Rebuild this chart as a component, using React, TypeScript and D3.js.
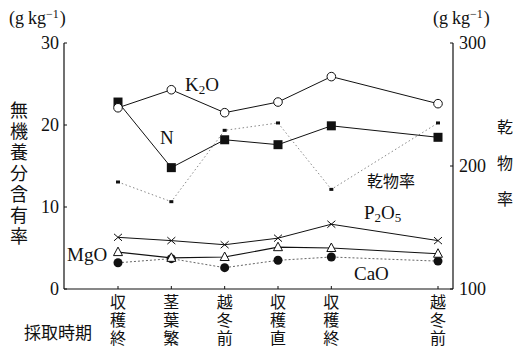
import React from "react";
import * as d3 from "d3";

const categories = [["収", "穫", "終"], ["茎", "葉", "繁"], ["越", "冬", "前"], ["収", "穫", "直"], ["収", "穫", "終"], ["越", "冬", "前"]];
const positions = [0, 1, 2, 3, 4, 6];
const k2o = [22.1, 24.3, 21.5, 22.8, 25.9, 22.6];
const nVals = [22.8, 14.8, 18.2, 17.6, 19.9, 18.5];
const dryMatter = [187, 171, 229, 235, 181, 235];
const p2o5 = [6.3, 5.9, 5.4, 6.2, 7.9, 5.9];
const mgo = [4.5, 3.8, 3.9, 5.1, 5.0, 4.3];
const cao = [3.2, 3.7, 2.6, 3.5, 3.9, 3.4];
const leftTicks = [0, 10, 20, 30];
const rightTicks = [100, 200, 300];
const leftTitle = ["無", "機", "養", "分", "含", "有", "率"];
const rightTitle = ["乾", "物", "率"];

const SERIF = "'Liberation Serif', 'DejaVu Serif', serif";
const JP = "'Noto Sans CJK JP', sans-serif";

export default function App() {
  const W = 514, H = 346;
  const x = d3.scaleLinear().domain([0, 6]).range([118, 438]);
  const yL = d3.scaleLinear().domain([0, 30]).range([289, 43]);
  const yR = d3.scaleLinear().domain([100, 300]).range([289, 43]);
  const axL = 64, axR = 453;

  const lineL = (vals: number[]) =>
    d3.line<number>().x((_, i) => x(positions[i])).y((v) => yL(v))(vals) || "";
  const lineR = (vals: number[]) =>
    d3.line<number>().x((_, i) => x(positions[i])).y((v) => yR(v))(vals) || "";

  const ink = "#111";

  const unit = (x0: number) => (
    <text x={x0} y={24} fontFamily={SERIF} fontSize={18} fill={ink}>
      (g<tspan dx={4}>kg</tspan><tspan dy={-6} fontSize={12}>−1</tspan><tspan dy={6} dx={1}>)</tspan>
    </text>
  );

  return (
    <svg width={W} height={H} style={{ position: "absolute", left: 0, top: 0, background: "#fff" }}>
      {/* units */}
      {unit(9)}
      {unit(433)}

      {/* axes */}
      <line x1={axL} x2={axL} y1={yL(30)} y2={yL(0)} stroke={ink} strokeWidth={1.2} />
      <line x1={axR} x2={axR} y1={yR(300)} y2={yR(100)} stroke={ink} strokeWidth={1.2} />
      <line x1={axL} x2={axR} y1={yL(0)} y2={yL(0)} stroke={ink} strokeWidth={1.2} />
      {leftTicks.map((t) => (
        <g key={"l" + t}>
          <line x1={axL} x2={axL + 3} y1={yL(t)} y2={yL(t)} stroke={ink} />
          <text x={axL - 5} y={yL(t) + 6} textAnchor="end" fontFamily={SERIF} fontSize={18} fill={ink}>{t}</text>
        </g>
      ))}
      {rightTicks.map((t) => (
        <g key={"r" + t}>
          <line x1={axR - 3} x2={axR} y1={yR(t)} y2={yR(t)} stroke={ink} />
          <text x={axR + 6} y={yR(t) + 6} fontFamily={SERIF} fontSize={18} fill={ink}>{t}</text>
        </g>
      ))}
      {positions.map((p, i) => (
        <line key={"xt" + i} x1={x(p)} x2={x(p)} y1={yL(0)} y2={yL(0) - 3} stroke={ink} />
      ))}

      {/* axis titles */}
      {leftTitle.map((c, i) => (
        <text key={"lt" + i} x={19} y={117 + i * 21} textAnchor="middle" fontFamily={JP} fontSize={18} fill={ink}>{c}</text>
      ))}
      {rightTitle.map((c, i) => (
        <text key={"rt" + i} x={505} y={133 + i * 36} textAnchor="middle" fontFamily={JP} fontSize={16} fill={ink}>{c}</text>
      ))}
      <text x={24} y={339} fontFamily={JP} fontSize={17} fill={ink}>採取時期</text>
      {categories.map((chars, i) =>
        chars.map((c, j) => (
          <text key={"c" + i + j} x={x(positions[i])} y={308 + j * 18} textAnchor="middle" fontFamily={JP} fontSize={16} fill={ink}>{c}</text>
        ))
      )}

      {/* dry matter (right axis) */}
      <path d={lineR(dryMatter)} fill="none" stroke="#888" strokeWidth={1} strokeDasharray="1.5 2.5" />
      {dryMatter.map((v, i) => (
        <rect key={"dm" + i} x={x(positions[i]) - 2} y={yR(v) - 1.5} width={4} height={3} fill={ink} />
      ))}

      {/* lines */}
      <path d={lineL(k2o)} fill="none" stroke={ink} strokeWidth={1} />
      <path d={lineL(nVals)} fill="none" stroke={ink} strokeWidth={1} />
      <path d={lineL(p2o5)} fill="none" stroke={ink} strokeWidth={1} />
      <path d={lineL(mgo)} fill="none" stroke={ink} strokeWidth={1.2} />
      <path d={lineL(cao)} fill="none" stroke="#666" strokeWidth={1} strokeDasharray="2 2" />

      {/* markers */}
      {cao.map((v, i) => (
        <circle key={"ca" + i} cx={x(positions[i])} cy={yL(v)} r={4.5} fill={ink} />
      ))}
      {mgo.map((v, i) => {
        const cx = x(positions[i]), cy = yL(v);
        return <path key={"mg" + i} d={`M${cx},${cy - 5}L${cx + 4.5},${cy + 3.5}L${cx - 4.5},${cy + 3.5}Z`} fill="#fff" stroke={ink} strokeWidth={1} />;
      })}
      {p2o5.map((v, i) => {
        const cx = x(positions[i]), cy = yL(v);
        return <path key={"p" + i} d={`M${cx - 4},${cy - 3.5}L${cx + 4},${cy + 3.5}M${cx - 4},${cy + 3.5}L${cx + 4},${cy - 3.5}`} stroke={ink} strokeWidth={1} />;
      })}
      {nVals.map((v, i) => (
        <rect key={"n" + i} x={x(positions[i]) - 4.5} y={yL(v) - 4.5} width={9} height={9} fill={ink} />
      ))}
      {k2o.map((v, i) => (
        <circle key={"k" + i} cx={x(positions[i])} cy={yL(v)} r={4.3} fill="#fff" stroke={ink} strokeWidth={1} />
      ))}

      {/* series labels */}
      <text x={185} y={91} fontFamily={SERIF} fontSize={19} fill={ink}>K<tspan fontSize={13} dy={3}>2</tspan><tspan dy={-3}>O</tspan></text>
      <text x={160} y={144} fontFamily={SERIF} fontSize={19} fill={ink}>N</text>
      <text x={367} y={187} fontFamily={JP} fontSize={16} fill={ink}>乾物率</text>
      <text x={364} y={219} fontFamily={SERIF} fontSize={19} fill={ink}>P<tspan fontSize={13} dy={3}>2</tspan><tspan dy={-3}>O</tspan><tspan fontSize={13} dy={3}>5</tspan></text>
      <text x={67} y={261} fontFamily={SERIF} fontSize={19} fill={ink}>MgO</text>
      <text x={354} y={280} fontFamily={SERIF} fontSize={19} fill={ink}>CaO</text>
    </svg>
  );
}
